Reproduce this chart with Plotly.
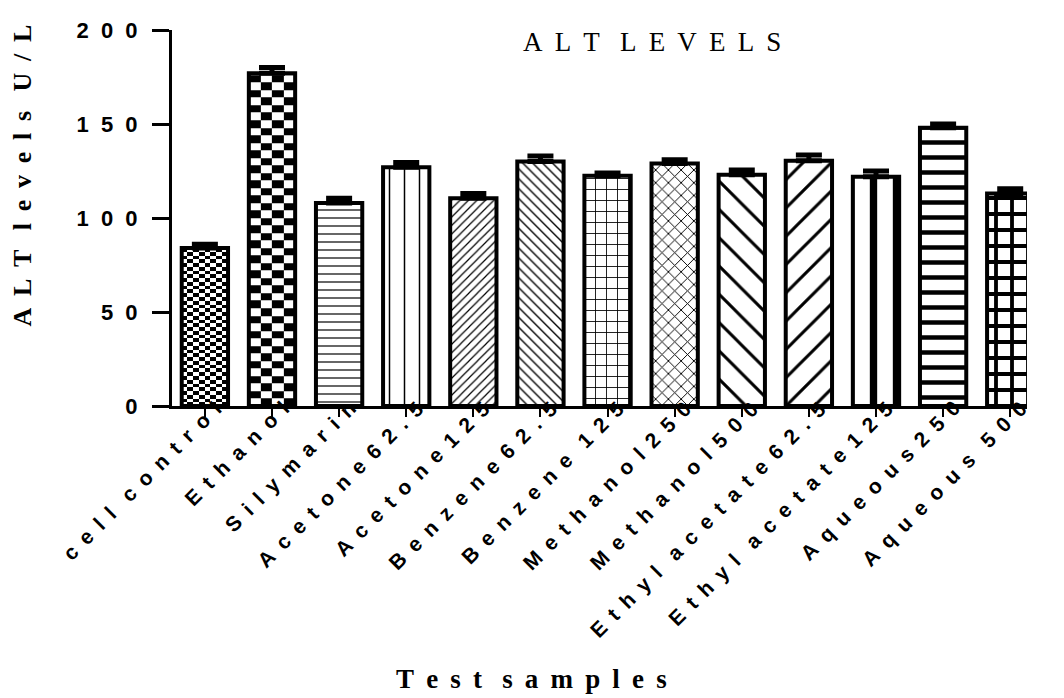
import numpy as np
import plotly.graph_objects as go

# ALT levels (U/L) per test sample, mean and upper error
samples = ["cell control", "Ethanol", "Silymarin", "Acetone62.5", "Acetone125",
           "Benzene62.5", "Benzene 125", "Methanol250", "Methanol500",
           "Ethyl acetate62.5", "Ethyl acetate125", "Aqueous250", "Aqueous 500"]
alt_mean = [84, 177, 108, 127, 110.5, 130, 122.5, 129, 123, 130.5, 122, 148, 113]
alt_err = [2, 3, 2.5, 2.5, 2.5, 3, 1.5, 2, 2.5, 3, 3, 2, 2.5]
y_ticks = [0, 50, 100, 150, 200]

NB = "\u00a0"
THIN = "\u2009"


def spaced(text, gap, word_gap):
    parts = []
    for word in text.split(" "):
        parts.append(gap.join(word))
    return word_gap.join(parts)


x = list(range(len(samples)))
bar_w = 0.69

# fill pattern for each bar ("" = drawn as checkerboard underneath)
shapes = ["", "", "-", "|", "/", "\\", "+", "x", "\\", "/", "|", "-", "+"]
sizes = [8, 8, 8, 15, 6, 7, 11, 9, 20, 20, 23, 15, 16]
solid = [0.2, 0.2, 0.15, 0.1, 0.2, 0.2, 0.15, 0.2, 0.15, 0.15, 0.32, 0.3, 0.42]

fig = go.Figure()

# checkerboard fills: (bar index, columns, row height in data units)
checkers = [(0, 8, 2.0), (1, 4, 4.0)]
for idx, ncols, row_h in checkers:
    val = alt_mean[idx]
    xe = np.linspace(idx - bar_w / 2, idx + bar_w / 2, ncols + 1)
    ye = np.append(np.arange(0, val, row_h), val)
    nrows = len(ye) - 1
    z = np.fromfunction(lambda r, c: (r + c) % 2, (nrows, ncols))
    fig.add_trace(go.Heatmap(
        x=xe, y=ye, z=z, zmin=0, zmax=1,
        colorscale=[[0, "white"], [1, "black"]],
        showscale=False, hoverinfo="skip",
    ))

for i in x:
    if shapes[i]:
        marker = dict(
            color="white",
            line=dict(color="black", width=4),
            pattern=dict(shape=shapes[i], size=sizes[i], solidity=solid[i],
                         fgcolor="black", bgcolor="white", fillmode="replace"),
        )
    else:
        marker = dict(color="rgba(0,0,0,0)", line=dict(color="black", width=4))
    fig.add_trace(go.Bar(
        x=[i], y=[alt_mean[i]], width=bar_w, marker=marker,
        error_y=dict(type="data", array=[alt_err[i]], arrayminus=[0],
                     symmetric=False, color="black", thickness=5, width=13),
        showlegend=False, name=samples[i],
    ))

sans = "Liberation Sans, Arial, sans-serif"
serif = "Liberation Serif, Times New Roman, serif"
serif_gap = NB + THIN
serif_word = NB * 3

# slanted category labels, ending just up and right of each tick
annotations = [
    dict(text=spaced(s, NB + THIN, NB * 3), x=i, y=0, xref="x", yref="y",
         textangle=-45, showarrow=False, xanchor="right", yanchor="top",
         xshift=24, yshift=12,
         font=dict(family=sans, size=21, color="black", weight="bold"))
    for i, s in zip(x, samples)
]

annotations += [
    dict(text=spaced("ALT LEVELS", serif_gap, serif_word),
         xref="paper", yref="paper", x=0.561, y=0.968,
         showarrow=False, xanchor="center", yanchor="middle",
         font=dict(family=serif, size=27, color="black")),
    dict(text=spaced("ALT levels U/L", serif_gap, serif_word),
         xref="paper", yref="paper", x=-0.175, y=0.614, textangle=-90,
         showarrow=False, xanchor="center", yanchor="middle",
         font=dict(family=serif, size=26, color="black", weight="bold")),
    dict(text=spaced("Test samples", serif_gap, serif_word),
         xref="paper", yref="paper", x=0.421, y=-0.726,
         showarrow=False, xanchor="center", yanchor="middle",
         font=dict(family=serif, size=27, color="black", weight="bold")),
]

fig.update_layout(
    width=1064, height=698,
    margin=dict(l=172, r=37, t=30, b=292),
    plot_bgcolor="white", paper_bgcolor="white",
    showlegend=False,
    barmode="overlay",
    xaxis=dict(
        range=[-0.49, 12.25],
        tickmode="array", tickvals=x, showticklabels=False,
        showline=True, linecolor="black", linewidth=3,
        ticks="outside", ticklen=8, tickwidth=2, tickcolor="black",
        showgrid=False, zeroline=False,
    ),
    yaxis=dict(
        range=[0, 200],
        tickmode="array", tickvals=y_ticks,
        ticktext=[spaced(str(v), NB * 2, NB * 2) for v in y_ticks],
        tickfont=dict(family=sans, size=22, color="black", weight="bold"),
        ticklabelstandoff=10,
        showline=True, linecolor="black", linewidth=3,
        ticks="outside", ticklen=17, tickwidth=3, tickcolor="black",
        showgrid=False, zeroline=False,
    ),
    annotations=annotations,
)

fig.write_html("out.html")
